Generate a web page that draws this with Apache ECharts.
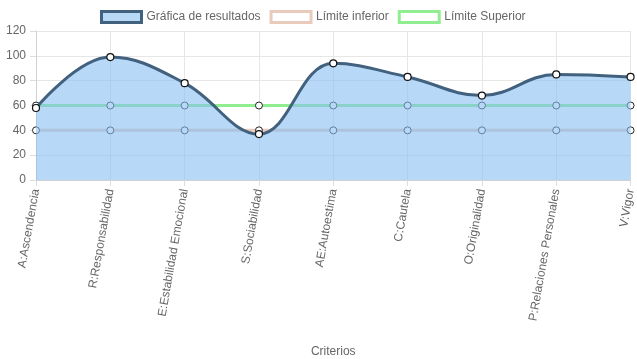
<!DOCTYPE html>
<html>
<head>
<meta charset="utf-8">
<script src="https://cdn.jsdelivr.net/npm/echarts@6/dist/echarts.min.js"></script>
<style>html,body{margin:0;padding:0;background:#fff}#c{width:637px;height:359px}</style>
</head>
<body>
<div id="c"></div>
<script>
const categories = ['A:Ascendencia','R:Responsabilidad','E:Estabilidad Emocional','S:Sociabilidad','AE:Autoestima','C:Cautela','O:Originalidad','P:Relaciones Personales','V:Vigor'];
const resultados = [58, 99, 78, 37, 94, 83, 68, 85, 83];
const limiteInferior = [40, 40, 40, 40, 40, 40, 40, 40, 40];
const limiteSuperior = [60, 60, 60, 60, 60, 60, 60, 60, 60];
const yTicks = {min: 0, max: 120, interval: 20};

const FONT = "'Liberation Sans', Arial, sans-serif";
const chart = echarts.init(document.getElementById('c'), null, {renderer: 'canvas'});
chart.setOption({
  animation: false,
  textStyle: {fontFamily: FONT},
  legend: {
    top: 5,
    left: 95,
    icon: 'rect',
    itemWidth: 40,
    itemHeight: 11,
    itemGap: 9,
    textStyle: {fontSize: 12, color: '#666', fontFamily: FONT},
    data: [
      {name: 'Gráfica de resultados', itemStyle: {color: '#b7d9f6', borderColor: '#41617f', borderWidth: 3}},
      {name: 'Límite inferior', itemStyle: {color: '#fff', borderColor: '#e8cbbd', borderWidth: 3}},
      {name: 'Límite Superior', itemStyle: {color: '#fff', borderColor: '#90ee90', borderWidth: 3}}
    ]
  },
  grid: {left: 36, right: 4, top: 31, bottom: 179, containLabel: false},
  xAxis: {
    type: 'category',
    data: categories,
    boundaryGap: false,
    name: 'Criterios',
    nameLocation: 'middle',
    nameGap: 166,
    nameTextStyle: {fontSize: 12, color: '#666', fontFamily: FONT},
    axisLine: {show: true, lineStyle: {color: '#d0d0d0', width: 1}},
    axisTick: {show: true, length: 6, lineStyle: {color: '#ddd'}},
    axisLabel: {rotate: 80, margin: 9, fontSize: 12, color: '#666', fontFamily: FONT},
    splitLine: {show: true, lineStyle: {color: '#e6e6e6'}}
  },
  yAxis: {
    type: 'value',
    min: yTicks.min, max: yTicks.max, interval: yTicks.interval,
    axisLine: {show: true, lineStyle: {color: '#d0d0d0'}},
    axisTick: {show: true, length: 6, lineStyle: {color: '#ddd'}},
    axisLabel: {fontSize: 12, color: '#666', margin: 10, fontFamily: FONT},
    splitLine: {show: true, lineStyle: {color: '#e6e6e6'}}
  },
  series: [
    {
      name: 'Límite inferior', type: 'line', data: limiteInferior, z: 2,
      symbol: 'circle', symbolSize: 7,
      lineStyle: {color: '#e8cbbd', width: 3},
      itemStyle: {color: '#fff', borderColor: '#222', borderWidth: 1}
    },
    {
      name: 'Límite Superior', type: 'line', data: limiteSuperior, z: 2,
      symbol: 'circle', symbolSize: 7,
      lineStyle: {color: '#90ee90', width: 3},
      itemStyle: {color: '#fff', borderColor: '#222', borderWidth: 1}
    },
    {
      name: 'Gráfica de resultados', type: 'line', data: resultados, z: 3,
      smooth: 0.4,
      symbol: 'circle', symbolSize: 7,
      lineStyle: {color: '#41617f', width: 3},
      itemStyle: {color: '#fff', borderColor: '#111', borderWidth: 1.2},
      areaStyle: {color: 'rgba(135,190,240,0.6)', opacity: 1}
    }
  ]
});
</script>
</body>
</html>
